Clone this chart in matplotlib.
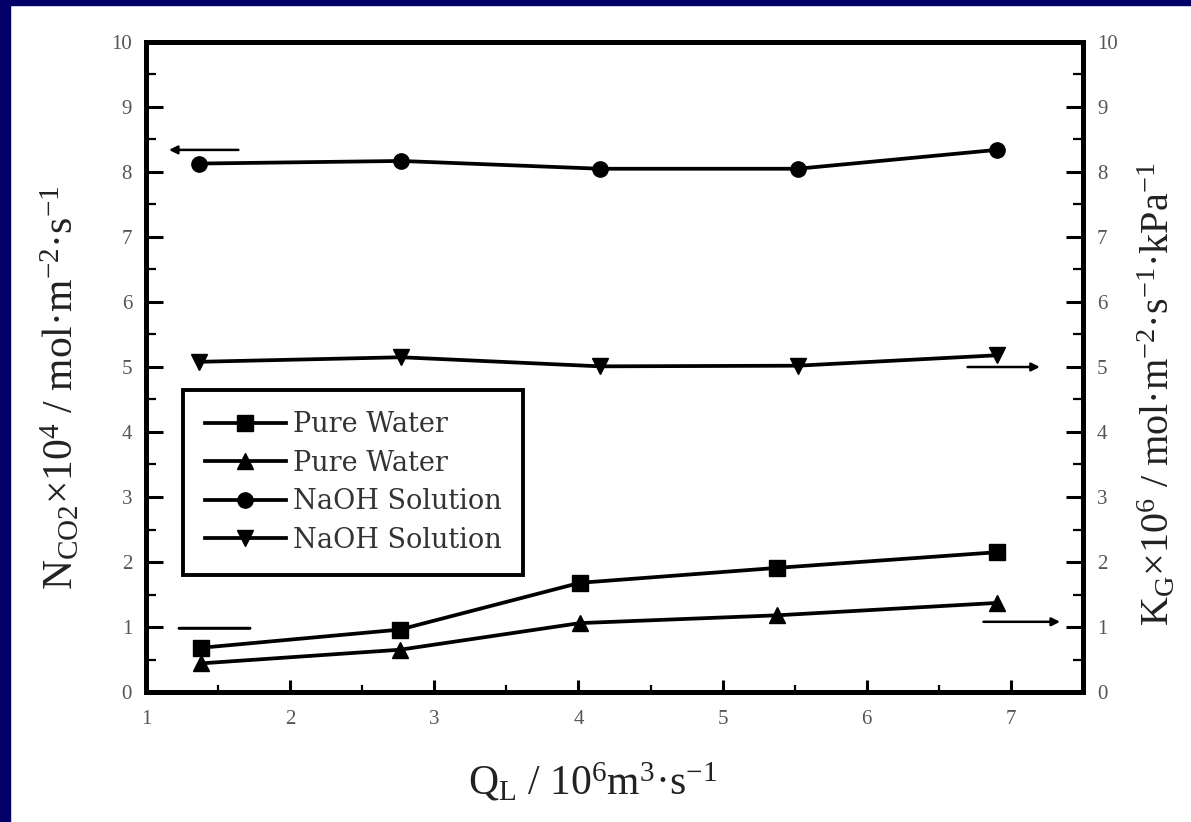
import matplotlib.pyplot as plt
from matplotlib.patches import Rectangle
from matplotlib.ticker import MultipleLocator

plt.rcParams['font.family'] = ['Liberation Serif', 'DejaVu Serif']
plt.rcParams['mathtext.fontset'] = 'custom'
plt.rcParams['mathtext.rm'] = 'Liberation Serif'
plt.rcParams['mathtext.it'] = 'Liberation Serif:italic'

# caudal de liquido Q_L
ql_agua = [1.38, 2.76, 4.01, 5.38, 6.90]
ql_naoh = [1.37, 2.77, 4.15, 5.52, 6.90]

# eje izquierdo: N_CO2 x 10^4
n_agua = [0.68, 0.96, 1.68, 1.91, 2.15]
n_naoh = [8.13, 8.17, 8.05, 8.05, 8.34]

# eje derecho: K_G x 10^6
kg_agua = [0.44, 0.65, 1.06, 1.18, 1.37]
kg_naoh = [5.08, 5.15, 5.01, 5.02, 5.18]

etiquetas = ["Pure Water", "Pure Water", "NaOH Solution", "NaOH Solution"]

# flechas que indican a que eje pertenece cada curva (x_inicio, x_fin, y)
flecha_naoh_izq = (1.66, 1.14, 8.34)
flecha_agua_izq = (1.74, 1.21, 0.98)
flecha_naoh_der = (6.68, 7.22, 5.00)
flecha_agua_der = (6.79, 7.36, 1.08)

fig = plt.figure(figsize=(11.91, 8.22), dpi=100)
fig.patch.set_facecolor('white')
# marco azul (solo arriba e izquierda)
fig.patches.append(Rectangle((0, 1 - 5 / 822), 1, 5 / 822, transform=fig.transFigure,
                             color='#000066', zorder=10))
fig.patches.append(Rectangle((0, 0), 10 / 1191, 1, transform=fig.transFigure,
                             color='#000066', zorder=10))

ax = fig.add_axes([146 / 1191, 1 - 692 / 822, 937 / 1191, 650 / 822])
ax2 = ax.twinx()

estilo = dict(color='black', lw=2.7, markersize=11)
l1, = ax.plot(ql_agua, n_agua, marker='s', **estilo)
l2, = ax2.plot(ql_agua, kg_agua, marker='^', **estilo)
l3, = ax.plot(ql_naoh, n_naoh, marker='o', **estilo)
l4, = ax2.plot(ql_naoh, kg_naoh, marker='v', **estilo)

flecha = dict(arrowstyle='-|>', color='black', lw=1.8, mutation_scale=12)
ax.annotate('', xy=(flecha_naoh_izq[1], flecha_naoh_izq[2]),
            xytext=(flecha_naoh_izq[0], flecha_naoh_izq[2]), arrowprops=flecha)
ax.annotate('', xy=(flecha_agua_izq[1], flecha_agua_izq[2]),
            xytext=(flecha_agua_izq[0], flecha_agua_izq[2]),
            arrowprops=dict(arrowstyle='-', color='black', lw=2.2))
ax2.annotate('', xy=(flecha_naoh_der[1], flecha_naoh_der[2]),
             xytext=(flecha_naoh_der[0], flecha_naoh_der[2]), arrowprops=flecha)
ax2.annotate('', xy=(flecha_agua_der[1], flecha_agua_der[2]),
             xytext=(flecha_agua_der[0], flecha_agua_der[2]), arrowprops=flecha)

for a in (ax, ax2):
    a.set_xlim(1, 7.5)
    a.set_ylim(0, 10)
    a.yaxis.set_major_locator(MultipleLocator(1))
    a.yaxis.set_minor_locator(MultipleLocator(0.5))
    for s in a.spines.values():
        s.set_linewidth(3.5)

ax.xaxis.set_major_locator(MultipleLocator(1))
ax.xaxis.set_minor_locator(MultipleLocator(0.5))

ax.tick_params(axis='both', which='both', direction='in', top=False, right=False,
               labelsize=15, labelcolor='#555555')
ax.tick_params(axis='y', which='major', length=12, width=2.2, pad=10)
ax.tick_params(axis='y', which='minor', length=7, width=1.6)
ax.tick_params(axis='x', which='major', length=9, width=2.2, pad=13)
ax.tick_params(axis='x', which='minor', length=5, width=1.6)
ax2.tick_params(axis='y', which='both', direction='in', labelsize=15, labelcolor='#555555', pad=10)
ax2.tick_params(axis='y', which='major', length=12, width=2.2)
ax2.tick_params(axis='y', which='minor', length=7, width=1.6)

ax.set_xlabel(r'Q$_{\mathrm{L}}$ / 10$^6$m$^3$·s$^{-1}$', fontsize=30, color='#222222')
ax.set_ylabel(r'N$_{\mathrm{CO2}}$×10$^4$ / mol·m$^{-2}$·s$^{-1}$', fontsize=30, color='#222222')
ax2.set_ylabel(r'K$_{\mathrm{G}}$×10$^6$ / mol·m$^{-2}$·s$^{-1}$·kPa$^{-1}$', fontsize=29,
               color='#222222')
ax.xaxis.set_label_coords(0.476, -0.105)
ax.yaxis.set_label_coords(-0.068, 0.468)
ax2.yaxis.set_label_coords(1.058, 0.458)

leg = ax2.legend([l1, l2, l3, l4], etiquetas, loc='upper left',
                 bbox_to_anchor=(0.0395, 0.465), borderaxespad=0,
                 prop={'family': 'DejaVu Serif', 'size': 19.5},
                 handlelength=3.0, handletextpad=0.25, labelspacing=0.42,
                 borderpad=0.8, fancybox=False, framealpha=1, numpoints=1)
leg.get_frame().set_edgecolor('black')
leg.get_frame().set_linewidth(2.8)
for t in leg.get_texts():
    t.set_color('#333333')

fig.savefig('out.png', dpi=100)
